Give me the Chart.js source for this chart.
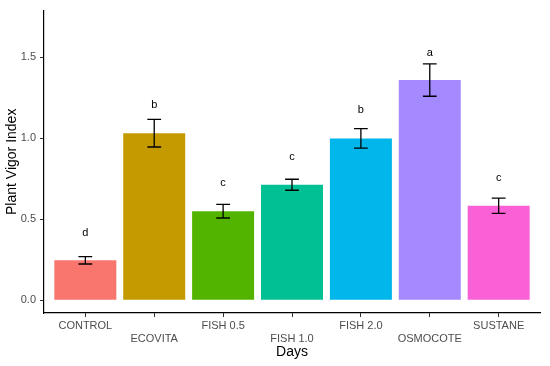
<!DOCTYPE html>
<html>
<head>
<meta charset="utf-8">
<script src="https://cdn.jsdelivr.net/npm/chart.js@4"></script>
<style>
html,body{margin:0;padding:0;background:#fff;}
canvas{display:block;}
</style>
</head>
<body>
<canvas id="c" width="550" height="366"></canvas>
<script>
const categories = ['CONTROL','ECOVITA','FISH 0.5','FISH 1.0','FISH 2.0','OSMOCOTE','SUSTANE'];
const means = [0.246, 1.030, 0.549, 0.712, 0.998, 1.358, 0.582];
const errors = [0.023, 0.085, 0.042, 0.034, 0.060, 0.100, 0.047];
const letters = ['d','b','c','c','b','a','c'];
const letterY = [0.415, 1.203, 0.720, 0.884, 1.171, 1.524, 0.752];
const colors = ['#F8766D','#C49A00','#53B400','#00C094','#00B6EB','#A58AFF','#FB61D7'];
const yTicks = [0, 0.5, 1.0, 1.5];

const FONT = "'Liberation Sans', Arial, Helvetica, sans-serif";

const errLetters = {
  id: 'errLetters',
  afterDatasetsDraw(chart) {
    const ctx = chart.ctx, xs = chart.scales.x, ys = chart.scales.y;
    ctx.save();
    ctx.strokeStyle = '#000';
    ctx.lineWidth = 1.3;
    const half = xs.getPixelForValue(1.1) - xs.getPixelForValue(1);
    means.forEach((m, i) => {
      const x = xs.getPixelForValue(i + 1);
      const yt = ys.getPixelForValue(m + errors[i]);
      const yb = ys.getPixelForValue(m - errors[i]);
      ctx.beginPath();
      ctx.moveTo(x, yt); ctx.lineTo(x, yb);
      ctx.moveTo(x - half, yt); ctx.lineTo(x + half, yt);
      ctx.moveTo(x - half, yb); ctx.lineTo(x + half, yb);
      ctx.stroke();
    });
    ctx.fillStyle = '#000';
    ctx.font = '11px ' + FONT;
    ctx.textAlign = 'center';
    ctx.textBaseline = 'middle';
    letters.forEach((l, i) => {
      ctx.fillText(l, xs.getPixelForValue(i + 1), ys.getPixelForValue(letterY[i]));
    });
    ctx.restore();
  }
};

new Chart(document.getElementById('c'), {
  type: 'bar',
  data: {
    datasets: [{
      data: means.map((v, i) => ({x: i + 1, y: v})),
      backgroundColor: colors,
      borderWidth: 0,
      barPercentage: 0.9,
      categoryPercentage: 1.0
    }]
  },
  options: {
    responsive: false,
    animation: false,
    events: [],
    layout: {padding: {top: 7, right: 10, left: 0, bottom: 0}},
    plugins: {legend: {display: false}, tooltip: {enabled: false}},
    scales: {
      x: {
        type: 'linear',
        offset: false,
        min: 0.4, max: 7.6,
        afterBuildTicks: a => { a.ticks = categories.map((c, i) => ({value: i + 1})); },
        afterFit: s => { s.height = 53; },
        grid: {offset: false, drawOnChartArea: false, drawTicks: true, tickLength: 4, color: '#333', lineWidth: 1},
        border: {display: true, color: '#000', width: 1.2},
        ticks: {
          autoSkip: false, maxRotation: 0, minRotation: 0, padding: 2,
          color: '#4d4d4d',
          font: {family: FONT, size: 11, lineHeight: 1.18},
          callback: v => { const i = Math.round(v) - 1; return i % 2 === 1 ? ['', categories[i]] : categories[i]; }
        },
        title: {display: true, text: 'Days', color: '#000', font: {family: FONT, size: 14}, padding: {top: 0, bottom: 5}}
      },
      y: {
        min: -0.0793, max: 1.7866,
        afterBuildTicks: a => { a.ticks = yTicks.map(v => ({value: v})); },
        afterFit: s => { s.width = 44; },
        grid: {drawOnChartArea: false, drawTicks: true, tickLength: 4, color: '#333', lineWidth: 1},
        border: {display: true, color: '#000', width: 1.2},
        ticks: {
          padding: 4, color: '#4d4d4d',
          font: {family: FONT, size: 11},
          callback: v => v.toFixed(1)
        },
        title: {display: true, text: 'Plant Vigor Index', color: '#000', font: {family: FONT, size: 14}, padding: {top: 4, bottom: 0}}
      }
    }
  },
  plugins: [errLetters]
});
</script>
</body>
</html>
